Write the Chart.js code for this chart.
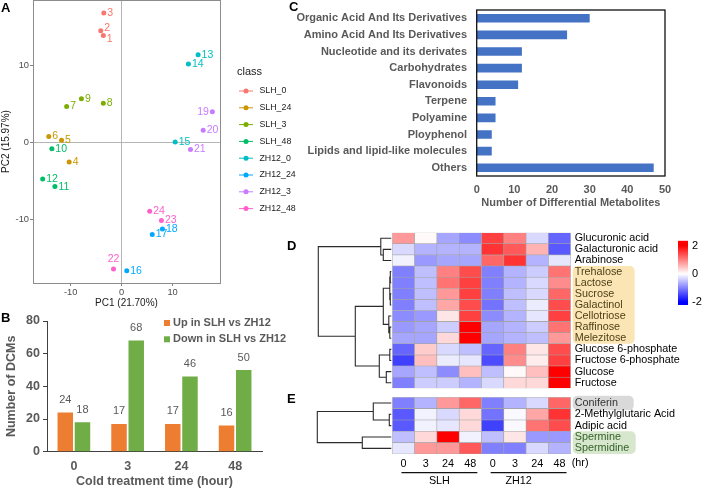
<!DOCTYPE html>
<html>
<head>
<meta charset="utf-8">
<title>Metabolite figure</title>
<script src="https://cdn.jsdelivr.net/npm/chart.js@4.4.1/dist/chart.umd.min.js"></script>
<style>
  body { margin: 0; background: #fff; }
  #page { position: relative; width: 708px; height: 489px; overflow: hidden; font-family: "Liberation Sans", Arial, sans-serif; }
  #page canvas { position: absolute; }
  .tag { position: absolute; font-weight: bold; font-size: 13px; line-height: 13px; color: #000; }
</style>
</head>
<body>
<div id="page">
  <canvas id="pcaChart" width="300" height="310" style="left:0;top:0"></canvas>
  <canvas id="dcmChart" width="290" height="184" style="left:0;top:305px"></canvas>
  <canvas id="classChart" width="423" height="215" style="left:285px;top:0"></canvas>
  <canvas id="sugarMap" width="428" height="165" style="left:280px;top:228px"></canvas>
  <canvas id="otherMap" width="428" height="99" style="left:280px;top:390px"></canvas>
  <canvas id="colorKey" width="36" height="76" style="left:672px;top:236px"></canvas>
  <div class="tag" style="left:1px;top:1px">A</div>
  <div class="tag" style="left:1px;top:311px">B</div>
  <div class="tag" style="left:289px;top:0">C</div>
  <div class="tag" style="left:287px;top:239px">D</div>
  <div class="tag" style="left:287px;top:392px">E</div>
</div>
<script>
// ---- panel A: PCA scores ----
const pcaClasses = ['SLH_0', 'SLH_24', 'SLH_3', 'SLH_48', 'ZH12_0', 'ZH12_24', 'ZH12_3', 'ZH12_48'];
const pcaColors = ['#F8766D', '#CD9600', '#7CAE00', '#00BE67', '#00BFC4', '#00A9FF', '#C77CFF', '#FF61CC'];
const sampleIds = [1, 2, 3, 4, 5, 6, 7, 8, 9, 10, 11, 12, 13, 14, 15, 16, 17, 18, 19, 20, 21, 22, 23, 24];
const sampleClass = [0, 0, 0, 1, 1, 1, 2, 2, 2, 3, 3, 3, 4, 4, 4, 5, 5, 5, 6, 6, 6, 7, 7, 7];
const pc1 = [-3.6, -4.1, -3.5, -10.3, -11.8, -14.3, -10.8, -3.6, -7.9, -13.7, -13.1, -15.5,
             15.0, 13.1, 10.5, 1.0, 6.0, 8.0, 17.8, 16.0, 13.5, -1.6, 7.8, 5.5];
const pc2 = [13.9, 14.5, 16.8, -2.5, 0.3, 0.8, 4.7, 5.1, 5.7, -0.8, -5.7, -4.7,
             11.4, 10.2, 0.1, -16.6, -11.9, -11.2, 4.0, 1.6, -0.9, -16.4, -10.1, -8.9];

// ---- panel B: DCM counts ----
const hours = ['0', '3', '24', '48'];
const upInSLH = [24, 17, 17, 16];
const downInSLH = [18, 68, 46, 50];

// ---- panel C: metabolite classes ----
const metClasses = ['Organic Acid And Its Derivatives', 'Amino Acid And Its Derivatives', 'Nucleotide and its derivates',
  'Carbohydrates', 'Flavonoids', 'Terpene', 'Polyamine', 'Ployphenol', 'Lipids and lipid-like molecules', 'Others'];
const metCounts = [30, 24, 12, 12, 11, 5, 5, 4, 4, 47];

// ---- panels D/E: heatmaps (z-scores) ----
const timeLabels = ['0', '3', '24', '48', '0', '3', '24', '48'];
const genotypes = ['SLH', 'ZH12'];
const rowsD = ['Glucuronic acid', 'Galacturonic acid', 'Arabinose', 'Trehalose', 'Lactose', 'Sucrose', 'Galactinol',
  'Cellotriose', 'Raffinose', 'Melezitose', 'Glucose 6-phosphate', 'Fructose 6-phosphate', 'Glucose', 'Fructose'];
const zD = [
  [0.8, 0.05, -0.7, -0.9, 1.5, 1.0, -0.3, -1.2],
  [-0.3, -0.6, -0.6, -0.6, 1.6, 1.3, 0.6, -1.3],
  [-0.1, -0.8, -0.7, -0.7, 1.2, 1.6, -0.6, -0.2],
  [-1.0, -0.5, 1.0, 1.4, -1.0, -0.6, -0.4, 1.1],
  [-1.0, -0.5, 1.1, 1.5, -1.0, -0.6, -0.3, 0.9],
  [-1.0, -0.5, 0.8, 1.5, -1.0, -0.5, -0.3, 1.2],
  [-1.0, -0.5, 0.7, 1.4, -1.1, -0.5, -0.15, 1.4],
  [-0.9, -0.8, 0.2, 1.5, -0.9, -0.6, -0.2, 1.5],
  [-0.8, -0.7, -0.4, 2.0, -0.7, -0.6, -0.4, 1.1],
  [-0.7, -0.7, 0.3, 2.0, -0.7, -0.6, -0.5, 0.8],
  [-1.2, 0.4, -0.3, -0.5, -1.2, 1.0, 0.2, 1.4],
  [-1.5, 0.5, -0.15, -0.2, -1.4, 0.9, 0.15, 1.5],
  [-0.7, -0.5, -0.9, 0.5, -0.5, 0.05, 0.5, 2.0],
  [-1.0, -0.4, -0.4, -0.6, -0.3, 0.3, 0.3, 2.0]
];
const rowsE = ['Coniferin', '2-Methylglutaric Acid', 'Adipic acid', 'Spermine', 'Spermidine'];
const zE = [
  [-1.0, -0.6, 0.8, 1.2, -1.0, -0.6, -0.3, 1.2],
  [-1.3, -0.1, -0.3, 0.3, -1.1, -0.05, 0.7, 1.6],
  [-1.3, -0.1, -0.2, 0.3, -1.5, -0.05, 1.1, 1.4],
  [-0.5, 0.3, 2.0, -0.1, -0.5, 0.2, -0.8, -0.8],
  [-0.2, 0.8, 0.8, 1.3, -1.0, -1.0, -0.3, -0.6]
];
// row dendrograms: [height, left, right], leaves are row indexes
const treeD = [73, [10.5, 0, [8, 1, 2]],
  [36, [8, [1.5, [1, 3, 4], [1, 5, 6]], [2.5, 7, [1.5, 8, 9]]], [12, [1.5, 10, 11], [5, 12, 13]]]];
const treeE = [74, [18, 0, [2, 1, 2]], [29, 3, 4]];

Chart.defaults.font.family = '"Liberation Sans", Arial, sans-serif';
Chart.defaults.plugins.legend.display = false;
Chart.defaults.plugins.tooltip.enabled = false;

function heatColor(v) {
  const t = Math.max(-1, Math.min(1, v / 2));
  const c = Math.round(255 * (1 - Math.abs(t)));
  return t < 0 ? `rgb(${c},${c},255)` : `rgb(255,${c},${c})`;
}

// vertical axes must not push the plot area inward for their end labels
function noEdgePad(s) {
  s.paddingTop = 0;
  s.paddingBottom = 0;
}

// ---------- A ----------
const pcaPlugin = {
  id: 'pcaExtras',
  afterDraw(chart) {
    const { ctx, chartArea: a } = chart;
    ctx.save();
    ctx.strokeStyle = '#8c8c8c';
    ctx.lineWidth = 1;
    ctx.strokeRect(a.left + 0.5, a.top + 0.5, a.right - a.left, a.bottom - a.top);

    // sample numbers next to points
    ctx.font = '10.5px "Liberation Sans", Arial';
    ctx.textBaseline = 'middle';
    chart.data.datasets.forEach((ds, k) => {
      chart.getDatasetMeta(k).data.forEach((pt, j) => {
        const id = ds.data[j].id;
        let tx = pt.x + 3.5, ty = pt.y;
        ctx.textAlign = 'left';
        if (id === 22) { tx = pt.x; ty = pt.y - 10; ctx.textAlign = 'center'; }
        if (id === 19) { tx = pt.x - 3.5; ctx.textAlign = 'right'; }
        if (id === 1) ty += 4;
        if (id === 2) ty -= 3;
        ctx.fillStyle = ds.borderColor;
        ctx.fillText(String(id), tx, ty);
      });
    });

    // legend
    ctx.fillStyle = '#1a1a1a';
    ctx.textAlign = 'left';
    ctx.font = '11px "Liberation Sans", Arial';
    ctx.fillText('class', 237, 72);
    ctx.font = '8.8px "Liberation Sans", Arial';
    chart.data.datasets.forEach((ds, k) => {
      const y = 91 + k * 16.8;
      ctx.strokeStyle = ds.borderColor;
      ctx.lineWidth = 1;
      ctx.beginPath(); ctx.moveTo(239, y); ctx.lineTo(253, y); ctx.stroke();
      ctx.fillStyle = ds.borderColor;
      ctx.beginPath(); ctx.arc(246, y, 2.5, 0, Math.PI * 2); ctx.fill();
      ctx.fillStyle = '#1a1a1a';
      ctx.fillText(ds.label, 259.5, y);
    });
    ctx.restore();
  }
};

const zeroLine = c => (c.tick && c.tick.value === 0) ? '#b5b5b5' : 'rgba(0,0,0,0)';

new Chart(document.getElementById('pcaChart'), {
  type: 'scatter',
  data: {
    datasets: pcaClasses.map((name, k) => ({
      label: name,
      data: sampleIds.filter((_, i) => sampleClass[i] === k)
        .map(id => ({ x: pc1[id - 1], y: pc2[id - 1], id: id })),
      backgroundColor: pcaColors[k],
      borderColor: pcaColors[k],
      pointRadius: 2.5,
      pointBorderWidth: 0
    }))
  },
  options: {
    responsive: false, animation: false, devicePixelRatio: 1,
    layout: { autoPadding: false, padding: { top: 0, right: 80 } },
    scales: {
      x: {
        min: -17.4, max: 19.3,
        ticks: { stepSize: 10, includeBounds: false, color: '#4d4d4d', font: { size: 9.3 }, padding: 1 },
        grid: { color: zeroLine, tickColor: '#7f7f7f', tickLength: 3 },
        border: { display: false },
        title: { display: true, text: 'PC1 (21.70%)', color: '#1a1a1a', font: { size: 10 }, padding: { top: 0, bottom: 1 } },
        afterFit(s) { s.height = 27; }
      },
      y: {
        min: -18.2, max: 18.5,
        ticks: { stepSize: 10, includeBounds: false, color: '#4d4d4d', font: { size: 9.3 }, padding: 1 },
        grid: { color: zeroLine, tickColor: '#7f7f7f', tickLength: 3 },
        border: { display: false },
        title: { display: true, text: 'PC2 (15.97%)', color: '#1a1a1a', font: { size: 10 }, padding: { top: 0, bottom: 0 } },
        afterFit(s) { s.width = 33; noEdgePad(s); }
      }
    }
  },
  plugins: [pcaPlugin]
});

// ---------- B ----------
const dcmPlugin = {
  id: 'dcmExtras',
  afterDatasetsDraw(chart) {
    const ctx = chart.ctx;
    ctx.save();
    ctx.font = '11px "Liberation Sans", Arial';
    ctx.fillStyle = '#595959';
    ctx.textAlign = 'center';
    ctx.textBaseline = 'middle';
    chart.data.datasets.forEach((ds, k) => {
      chart.getDatasetMeta(k).data.forEach((bar, j) => {
        ctx.fillText(String(ds.data[j]), bar.x, bar.y - 12.5);
      });
    });
    // legend
    ctx.textAlign = 'left';
    ctx.font = 'bold 11px "Liberation Sans", Arial';
    chart.data.datasets.forEach((ds, k) => {
      const y = 18 + k * 16.3;
      ctx.fillStyle = ds.backgroundColor;
      ctx.fillRect(164, y - 3, 6, 6);
      ctx.fillStyle = '#595959';
      ctx.fillText(ds.label, 173, y);
    });
    ctx.restore();
  }
};

new Chart(document.getElementById('dcmChart'), {
  type: 'bar',
  data: {
    labels: hours,
    datasets: [
      { label: 'Up in SLH vs ZH12', data: upInSLH, backgroundColor: '#ED7D31' },
      { label: 'Down in SLH vs ZH12', data: downInSLH, backgroundColor: '#70AD47' }
    ]
  },
  options: {
    responsive: false, animation: false, devicePixelRatio: 1,
    categoryPercentage: 0.64, barPercentage: 0.9,
    layout: { padding: { top: 16, right: 28 } },
    scales: {
      x: {
        grid: { display: false, drawTicks: false },
        border: { color: '#404040' },
        ticks: { color: '#595959', font: { size: 12.5, weight: 'bold' }, padding: 7 },
        title: { display: true, text: 'Cold treatment time (hour)', color: '#595959', font: { size: 12.5, weight: 'bold' }, padding: { top: 0, bottom: 0 } },
        afterFit(s) { s.height = 37.3; }
      },
      y: {
        min: 0, max: 80,
        ticks: { stepSize: 20, color: '#595959', font: { size: 12.5, weight: 'bold' }, padding: 3 },
        grid: { drawOnChartArea: false, tickLength: 4, color: '#404040' },
        border: { color: '#404040' },
        title: { display: true, text: 'Number of DCMs', color: '#595959', font: { size: 12.5, weight: 'bold' } },
        afterFit(s) { s.width = 47; noEdgePad(s); }
      }
    }
  },
  plugins: [dcmPlugin]
});

// ---------- C ----------
new Chart(document.getElementById('classChart'), {
  type: 'bar',
  data: {
    labels: metClasses,
    datasets: [{ data: metCounts, backgroundColor: '#4472C4', barPercentage: 0.52, categoryPercentage: 1 }]
  },
  options: {
    indexAxis: 'y',
    responsive: false, animation: false, devicePixelRatio: 1,
    layout: { padding: { top: 10, right: 43 } },
    scales: {
      x: {
        min: 0, max: 50,
        ticks: { stepSize: 10, color: '#595959', font: { size: 11, weight: 'bold' }, padding: 7.5 },
        grid: { display: false, drawTicks: false },
        border: { display: false },
        title: { display: true, text: 'Number of Differential Metabolites', color: '#595959', font: { size: 11, weight: 'bold' }, padding: { top: 0, bottom: 5.4 } },
        afterFit(s) { s.height = 39; }
      },
      y: {
        ticks: { autoSkip: false, color: '#595959', font: { size: 11, weight: 'bold' }, padding: 9.7 },
        grid: { display: false, drawTicks: false },
        border: { display: false },
        afterFit(s) { s.width = 191.7; noEdgePad(s); }
      }
    }
  },
  plugins: [{
    id: 'frame',
    afterDraw(chart) {
      const { ctx, chartArea: a } = chart;
      ctx.save();
      ctx.strokeStyle = '#111';
      ctx.lineWidth = 1.3;
      ctx.strokeRect(a.left, a.top, a.right - a.left, a.bottom - a.top);
      ctx.restore();
    }
  }]
});

// ---------- D / E heatmaps ----------
function drawTree(ctx, node, leafY, x0) {
  if (typeof node === 'number') return { x: x0, y: leafY(node) };
  const [h, a, b] = node;
  const A = drawTree(ctx, a, leafY, x0);
  const B = drawTree(ctx, b, leafY, x0);
  const x = x0 - h;
  ctx.moveTo(A.x, A.y); ctx.lineTo(x, A.y); ctx.lineTo(x, B.y); ctx.lineTo(B.x, B.y);
  return { x: x, y: (A.y + B.y) / 2 };
}

function heatmap(id, rows, z, tree, cfg) {
  const n = rows.length;
  const canvas = document.getElementById(id);
  const datasets = rows.map((name, r) => ({
    label: name,
    data: z[r].map(() => 1),
    backgroundColor: z[r].map(heatColor),
    borderColor: '#a3a3a3',
    borderWidth: 0.6,
    borderSkipped: false,
    barPercentage: 1,
    categoryPercentage: 1
  })).reverse();

  const extras = {
    id: 'heatExtras',
    beforeDraw(chart) {
      const { ctx, chartArea: a, scales } = chart;
      ctx.save();
      (cfg.boxes || []).forEach(b => {
        const top = scales.y.getPixelForValue(n - b.from) - (b.grow || 0);
        const bot = scales.y.getPixelForValue(n - b.to - 1) + (b.grow || 0);
        ctx.fillStyle = b.color;
        ctx.beginPath();
        ctx.roundRect(a.right + 2, top, b.width, bot - top, 5);
        ctx.fill();
      });
      ctx.restore();
    },
    afterDraw(chart) {
      const { ctx, chartArea: a, scales } = chart;
      ctx.save();
      ctx.strokeStyle = '#2b2b2b';
      ctx.lineWidth = 1.1;
      ctx.beginPath();
      drawTree(ctx, tree, r => scales.y.getPixelForValue(n - r - 0.5), a.left - 1);
      ctx.stroke();
      if (cfg.footer) {
        const x = scales.x;
        ctx.font = '10.8px "Liberation Sans", Arial';
        ctx.fillStyle = '#000';
        ctx.textBaseline = 'middle';
        ctx.textAlign = 'left';
        ctx.fillText('(hr)', a.right + 1, a.bottom + 9);
        ctx.lineWidth = 1.3;
        ctx.strokeStyle = '#111';
        ctx.textAlign = 'center';
        genotypes.forEach((g, k) => {
          const x0 = x.getPixelForValue(k * 4) - 2, x1 = x.getPixelForValue(k * 4 + 3) + 7;
          ctx.beginPath(); ctx.moveTo(x0, a.bottom + 18.7); ctx.lineTo(x1, a.bottom + 18.7); ctx.stroke();
          ctx.fillText(g, (x0 + x1) / 2 - (k ? 10 : 0), a.bottom + 26.7);
        });
      }
      ctx.restore();
    }
  };

  return new Chart(canvas, {
    type: 'bar',
    data: { labels: timeLabels, datasets: datasets },
    options: {
      responsive: false, animation: false, devicePixelRatio: 1,
      layout: { padding: { left: 112.3, top: cfg.top, bottom: cfg.bottom || 0 } },
      scales: {
        x: {
          stacked: true,
          display: !!cfg.footer,
          grid: { display: false, drawTicks: false },
          border: { display: false },
          ticks: { autoSkip: false, maxRotation: 0, color: '#000', font: { size: 10.8 }, padding: 3.6 },
          afterFit(s) { s.height = cfg.footer || 0; }
        },
        y: { stacked: true, min: 0, max: n, display: false },
        y2: {
          type: 'category',
          labels: rows,
          position: 'right',
          offset: true,
          grid: { display: false, drawTicks: false },
          border: { display: false },
          ticks: { autoSkip: false, font: { size: 10.8 }, padding: 4, color: c => (cfg.textColors || {})[c.index] || '#000' },
          afterFit(s) { s.width = canvas.width - 290.7; noEdgePad(s); }
        }
      }
    },
    plugins: [extras]
  });
}

heatmap('sugarMap', rowsD, zD, treeD, {
  top: 4.7, bottom: 4.7,
  boxes: [{ from: 3, to: 9, width: 62, color: '#FBE5B5' }],
  textColors: { 3: '#4f4118', 4: '#4f4118', 5: '#4f4118', 6: '#4f4118', 7: '#4f4118', 8: '#4f4118', 9: '#4f4118' }
});
heatmap('otherMap', rowsE, zE, treeE, {
  top: 7.3, footer: 35,
  boxes: [
    { from: 0, to: 0, width: 61, color: '#D9D9D9', grow: 1.5 },
    { from: 3, to: 4, width: 63, color: '#D7E7CD' }
  ],
  textColors: { 0: '#333', 3: '#35622a', 4: '#35622a' }
});

// ---------- colour key ----------
const keyMin = -2.2, keyMax = 2.35;
new Chart(document.getElementById('colorKey'), {
  type: 'bar',
  data: {
    labels: ['z'],
    datasets: [{
      data: [[keyMin, keyMax]],
      barPercentage: 1, categoryPercentage: 1,
      backgroundColor(c) {
        const { chart } = c;
        if (!chart.chartArea) return '#fff';
        const y = chart.scales.y;
        const y0 = y.getPixelForValue(keyMax), y1 = y.getPixelForValue(keyMin);
        const g = chart.ctx.createLinearGradient(0, y0, 0, y1);
        [2, 1, 0, -1, -2].forEach(v => g.addColorStop((y.getPixelForValue(v) - y0) / (y1 - y0), heatColor(v)));
        g.addColorStop(0, heatColor(2));
        g.addColorStop(1, heatColor(-2));
        return g;
      }
    }]
  },
  options: {
    responsive: false, animation: false, devicePixelRatio: 1,
    layout: { padding: { left: 6, top: 4.7, bottom: 7 } },
    scales: {
      x: { display: false },
      y: {
        position: 'right', min: keyMin, max: keyMax,
        ticks: { stepSize: 1, includeBounds: false, color: '#000', font: { size: 11 }, padding: 4 },
        grid: { display: false, drawTicks: false },
        border: { display: false },
        afterFit(s) { s.width = 20; noEdgePad(s); }
      }
    }
  }
});
</script>
</body>
</html>
